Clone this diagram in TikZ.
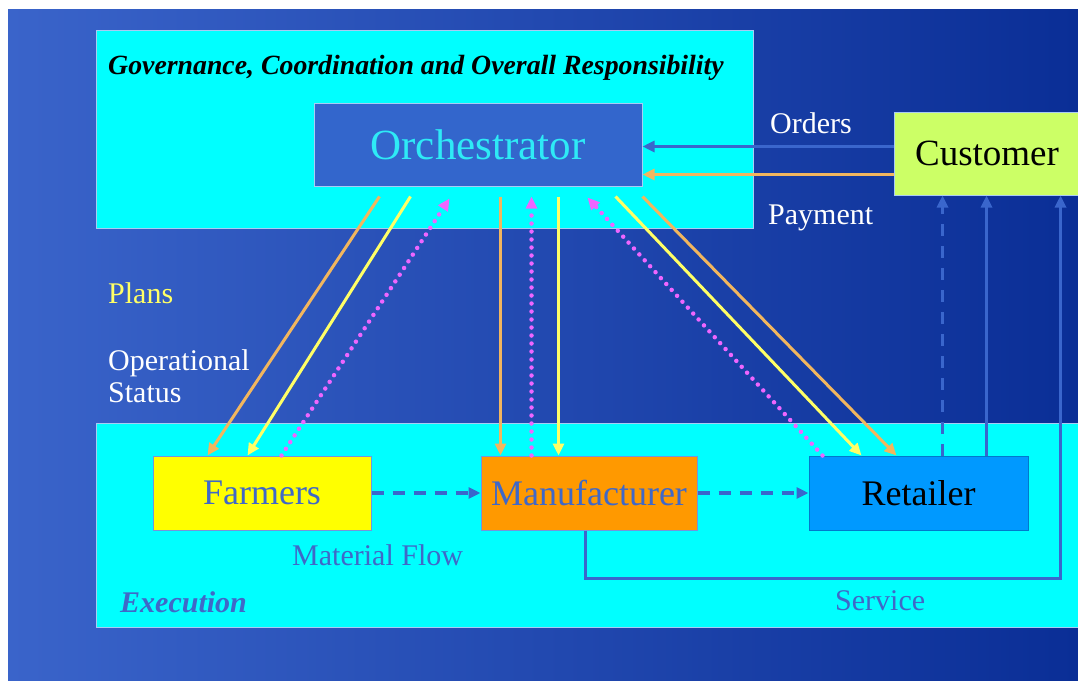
\documentclass[tikz,border=0pt]{standalone}
\usepackage{fontspec}
\setmainfont{Liberation Serif}
\usetikzlibrary{positioning,arrows.meta,calc}

\definecolor{bgleft}{HTML}{3A64CA}
\definecolor{bgmid}{HTML}{2C56BC}
\definecolor{bgright}{HTML}{0A2E96}
\definecolor{aqua}{HTML}{00FFFF}
\definecolor{rim}{HTML}{A8CCF4}
\definecolor{orchblue}{HTML}{3366CC}
\definecolor{orchtext}{HTML}{2EEAF6}
\definecolor{custgreen}{HTML}{CCFF66}
\definecolor{farmyellow}{HTML}{FFFF00}
\definecolor{manuorange}{HTML}{FF9900}
\definecolor{retblue}{HTML}{0099FF}
\definecolor{boxtext}{HTML}{3F68C8}
\definecolor{planorange}{HTML}{F2B65E}
\definecolor{planyellow}{HTML}{FFFF66}
\definecolor{statuspink}{HTML}{EE66FF}
\definecolor{flowblue}{HTML}{3A66CC}

\begin{document}
\begin{tikzpicture}[x=1pt, y=-1pt,
  panel/.style={draw=rim, line width=1pt, fill=aqua, anchor=north west, inner sep=0pt},
  unit/.style={draw=#1, line width=1pt, minimum height=74pt, inner sep=0pt,
    font=\fontsize{36}{40}\selectfont},
  lbl/.style={anchor=base west, inner sep=0pt, font=\fontsize{30}{34}\selectfont},
  tip/.style={-{Triangle[length=12pt, width=11pt]}},
  planline/.style={tip, draw=#1, line width=3pt},
  statusline/.style={tip, draw=statuspink, line width=4.5pt, line cap=round,
    dash pattern=on 0pt off 8pt},
  flowline/.style={tip, draw=flowblue, line width=3.5pt, dash pattern=on 12pt off 9pt},
  custline/.style={tip, draw=flowblue, line width=3pt}
]
\useasboundingbox (0,0) rectangle (1078,680);
\fill[white] (0,0) rectangle (1078,680);
\shade[left color=bgleft, middle color=bgmid, right color=bgright] (8,9) rectangle (1078,680);

% the two layers
\node[panel, minimum width=657pt, minimum height=198pt] (gov) at (96,30) {};
\node[panel, minimum width=990pt, minimum height=204pt] (exec) at (96,423) {};
\node[lbl, font=\fontsize{27.8}{32}\selectfont\bfseries\itshape] (govlbl) at (108,74)
  {Governance, Coordination and Overall Responsibility};
\node[lbl, font=\fontsize{30}{34}\selectfont\bfseries\itshape, text=boxtext] (execlbl) at (120,612)
  {Execution};

% actors
\node[unit=rim, fill=orchblue, text=orchtext, minimum width=328pt, minimum height=83pt,
  font=\fontsize{43}{48}\selectfont] (orch) at (478,144.5) {Orchestrator};
\node[unit=rim, fill=custgreen, minimum width=186pt, minimum height=83pt,
  font=\fontsize{37}{42}\selectfont] (cust) at (987,153.5) {Customer};
\node[unit=flowblue!70, fill=farmyellow, text=boxtext, minimum width=218pt] (farm) at (262,493) {Farmers};
\node[unit=flowblue!70, fill=manuorange, text=boxtext, minimum width=216pt] (manu) at (589,493) {Manufacturer};
\node[unit=retblue!80!black, fill=retblue, minimum width=219pt] (ret) at (918.5,493) {Retailer};

% labels
\node[lbl, text=white] (orders) at (770,133) {Orders};
\node[lbl, text=white] (payment) at (768,224) {Payment};
\node[lbl, text=planyellow] (plans) at (108,303) {Plans};
\node[lbl, text=white, align=left, anchor=north west] (opstat) at (108,349)
  {Operational\\[-2pt]Status};
\node[lbl, text=boxtext] (matflow) at (292,565) {Material Flow};
\node[lbl, text=boxtext] (service) at (835,610) {Service};

% customer <-> orchestrator
\draw[custline] ($(cust.north west)+(0,35)$) -- ($(orch.north east)+(0,44)$);
\draw[planline=planorange] ($(cust.north west)+(0,63)$) -- ($(orch.north east)+(0,72)$);

% plans and status to farmers
\draw[planline=planorange] ($(orch.south west)+(66,10)$) -- ($(farm.north west)+(55,0)$);
\draw[planline=planyellow] ($(orch.south west)+(97,10)$) -- ($(farm.north west)+(95,0)$);
\draw[statusline] ($(farm.north west)+(129,0)$) -- ($(orch.south west)+(136,12)$);

% plans and status to manufacturer
\draw[planline=planorange] ($(orch.south west)+(187,10)$) -- ($(manu.north west)+(20,0)$);
\draw[statusline] ($(manu.north west)+(51,0)$) -- ($(orch.south west)+(218,10)$);
\draw[planline=planyellow] ($(orch.south west)+(245,10)$) -- ($(manu.north west)+(78,0)$);

% plans and status to retailer
\draw[statusline] ($(ret.north west)+(14,0)$) -- ($(orch.south east)+(-55,11)$);
\draw[planline=planyellow] ($(orch.south east)+(-27,10)$) -- ($(ret.north west)+(53,0)$);
\draw[planline=planorange] ($(orch.south east)+(0,10)$) -- ($(ret.north west)+(88,0)$);

% material flow
\draw[flowline] (farm.east) -- (manu.west);
\draw[flowline] (manu.east) -- (ret.west);

% delivery and service to the customer
\draw[custline, dash pattern=on 12pt off 10pt] ($(ret.north west)+(134,0)$) -- ($(cust.south west)+(49,0)$);
\draw[custline] ($(ret.north west)+(178,0)$) -- ($(cust.south west)+(93,0)$);
\draw[custline] ($(manu.south west)+(105,0)$) |- ($(cust.south west)+(167,383)$)
  -- ($(cust.south west)+(167,0)$);
\end{tikzpicture}
\end{document}
